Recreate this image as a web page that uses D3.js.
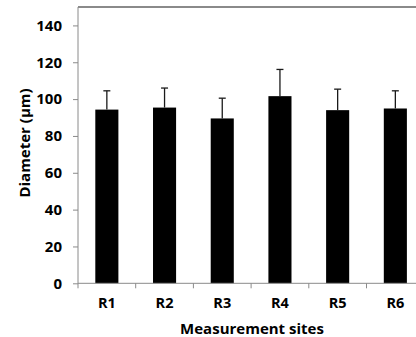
<!DOCTYPE html>
<html>
<head>
<meta charset="utf-8">
<script src="https://cdn.jsdelivr.net/npm/d3@7"></script>
<style>
  body { margin: 0; background: #fff; }
  text { font-family: "Open Sans", sans-serif; font-weight: bold; fill: #000; }
</style>
</head>
<body>
<div id="chart"></div>
<script>
// Data
const sites = ["R1", "R2", "R3", "R4", "R5", "R6"];
const diameters = [94.3, 95.4, 89.5, 101.6, 94.0, 94.9];
const errors = [10.2, 10.6, 11.0, 14.5, 11.4, 9.6];
const yTicks = [0, 20, 40, 60, 80, 100, 120, 140];

// Dimensions
let dimensions = {
  width: 416,
  height: 337,
  left: 78,
  top: 7,
  axisY: 283.3,
  step: 57.7,
};

const svg = d3
  .select("#chart")
  .append("svg")
  .attr("width", dimensions.width)
  .attr("height", dimensions.height);

// Scales
const xScale = d3
  .scaleBand()
  .domain(sites)
  .range([dimensions.left, dimensions.left + dimensions.step * sites.length])
  .paddingInner(0.6)
  .paddingOuter(0.3);

const yScale = d3
  .scaleLinear()
  .domain([0, 150])
  .range([dimensions.axisY, dimensions.top]);

// top border of plot area
svg
  .append("line")
  .attr("x1", dimensions.left)
  .attr("x2", dimensions.width)
  .attr("y1", dimensions.top)
  .attr("y2", dimensions.top)
  .attr("stroke", "#8a8a8a")
  .attr("stroke-width", 2);

// Bars
svg
  .append("g")
  .selectAll("rect")
  .data(sites)
  .join("rect")
  .attr("x", (d) => xScale(d))
  .attr("y", (d, i) => yScale(diameters[i]))
  .attr("width", xScale.bandwidth())
  .attr("height", (d, i) => dimensions.axisY - yScale(diameters[i]))
  .attr("fill", "#000");

// Error bars
const errG = svg.append("g").attr("stroke", "#1a1a1a").attr("stroke-width", 1.3);
sites.forEach((s, i) => {
  const cx = xScale(s) + xScale.bandwidth() / 2;
  errG
    .append("line")
    .attr("x1", cx)
    .attr("x2", cx)
    .attr("y1", yScale(diameters[i]))
    .attr("y2", yScale(diameters[i] + errors[i]));
  errG
    .append("line")
    .attr("x1", cx - 3.5)
    .attr("x2", cx + 3.5)
    .attr("y1", yScale(diameters[i] + errors[i]))
    .attr("y2", yScale(diameters[i] + errors[i]));
});

// Y axis
const leftAxis = d3.axisLeft(yScale).tickValues(yTicks).tickSize(5).tickPadding(11);
const yAxisGroup = svg
  .append("g")
  .attr("transform", `translate(${dimensions.left},0)`)
  .call(leftAxis);
yAxisGroup.select(".domain").attr("stroke", "#8a8a8a").attr("d", `M0,${dimensions.top}V${dimensions.axisY}`);
yAxisGroup.selectAll(".tick line").attr("stroke", "#8a8a8a");
yAxisGroup.selectAll(".tick text").style("font-size", "15px").style("font-family", "'Open Sans', sans-serif").attr("font-weight", "bold");

// X axis
const bottomAxis = d3.axisBottom(xScale).tickSize(0).tickPadding(14);
const xAxisGroup = svg
  .append("g")
  .attr("transform", `translate(0,${dimensions.axisY})`)
  .call(bottomAxis);
xAxisGroup.select(".domain").attr("stroke", "#8a8a8a").attr("d", `M${dimensions.left},0H${dimensions.width}`);
xAxisGroup.selectAll(".tick text").style("font-size", "14.5px").style("font-family", "'Open Sans', sans-serif").attr("font-weight", "bold");

// category boundary ticks
xAxisGroup
  .selectAll("line.bound")
  .data(d3.range(sites.length + 1))
  .join("line")
  .attr("class", "bound")
  .attr("x1", (i) => dimensions.left + i * xScale.step())
  .attr("x2", (i) => dimensions.left + i * xScale.step())
  .attr("y1", 0)
  .attr("y2", 5)
  .attr("stroke", "#8a8a8a");

// Titles
svg
  .append("text")
  .attr("x", 252)
  .attr("y", 330)
  .attr("text-anchor", "middle")
  .attr("dominant-baseline", "middle")
  .style("font-size", "15px")
  .text("Measurement sites");

svg
  .append("text")
  .attr("transform", "translate(26,143) rotate(-90)")
  .attr("text-anchor", "middle")
  .attr("dominant-baseline", "middle")
  .style("font-size", "15px")
  .text("Diameter (µm)");
</script>
</body>
</html>
